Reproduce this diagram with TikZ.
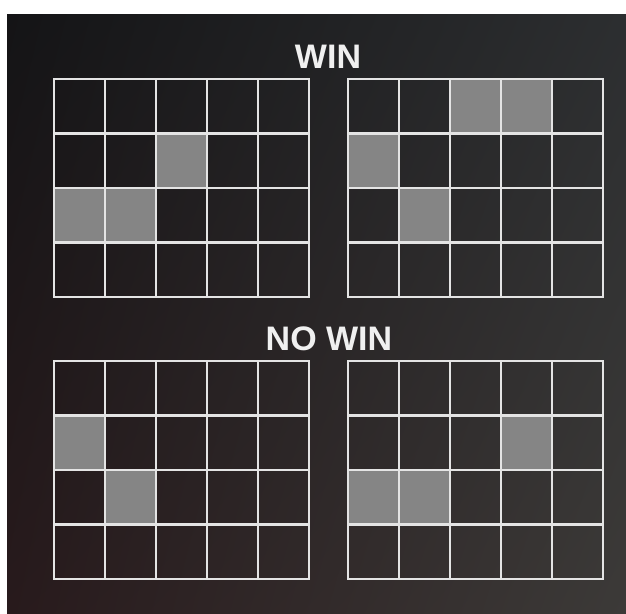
\documentclass[tikz,border=0pt]{standalone}
\usepackage{fontspec}
\setmainfont{Liberation Sans}
\usetikzlibrary{shadings}
\definecolor{bgTL}{RGB}{20,20,22}
\definecolor{bgTR}{RGB}{44,46,48}
\definecolor{bgBL}{RGB}{40,26,28}
\definecolor{bgBR}{RGB}{60,58,56}
\definecolor{linec}{RGB}{228,228,228}
\definecolor{cellgray}{RGB}{133,133,133}
\newcommand\gridat[2]{%
  \foreach \i in {1,...,4} \draw[gridline] ({#1+\i*51},#2) -- ++(0,218);
  \foreach \j in {1,...,3} \draw[gridline] (#1,{#2+\j*54.5}) -- ++(255,0);
  \draw[gridline] (#1,#2) rectangle ++(255,218);
}
\newcommand\hicellat[4]{%
  \fill[hicell] ({#1+#3*51},{#2+#4*54.5}) rectangle ++(51,54.5);
}
\begin{document}
\begin{tikzpicture}[x=1pt,y=-1pt,
  gridline/.style={draw=linec, line width=2.6pt},
  hicell/.style={fill=cellgray},
  title/.style={text=white!94!black, font=\bfseries\fontsize{34}{34}\selectfont, inner sep=0pt}]
\useasboundingbox (0,0) rectangle (626,613);
\fill[white] (0,0) rectangle (626,613);
\shade[upper left=bgTL, upper right=bgTR, lower left=bgBL, lower right=bgBR] (7,14) rectangle (626,613);
% highlighted cells
\hicellat{54}{79}{2}{1}
\hicellat{54}{79}{0}{2}
\hicellat{54}{79}{1}{2}
\hicellat{348}{79}{2}{0}
\hicellat{348}{79}{3}{0}
\hicellat{348}{79}{0}{1}
\hicellat{348}{79}{1}{2}
\hicellat{54}{361}{0}{1}
\hicellat{54}{361}{1}{2}
\hicellat{348}{361}{3}{1}
\hicellat{348}{361}{0}{2}
\hicellat{348}{361}{1}{2}
% grids
\gridat{54}{79}
\gridat{348}{79}
\gridat{54}{361}
\gridat{348}{361}
% titles
\node[title] (win) at (328,57) {WIN};
\node[title] (nowin) at (329,339) {NO WIN};
\end{tikzpicture}
\end{document}
